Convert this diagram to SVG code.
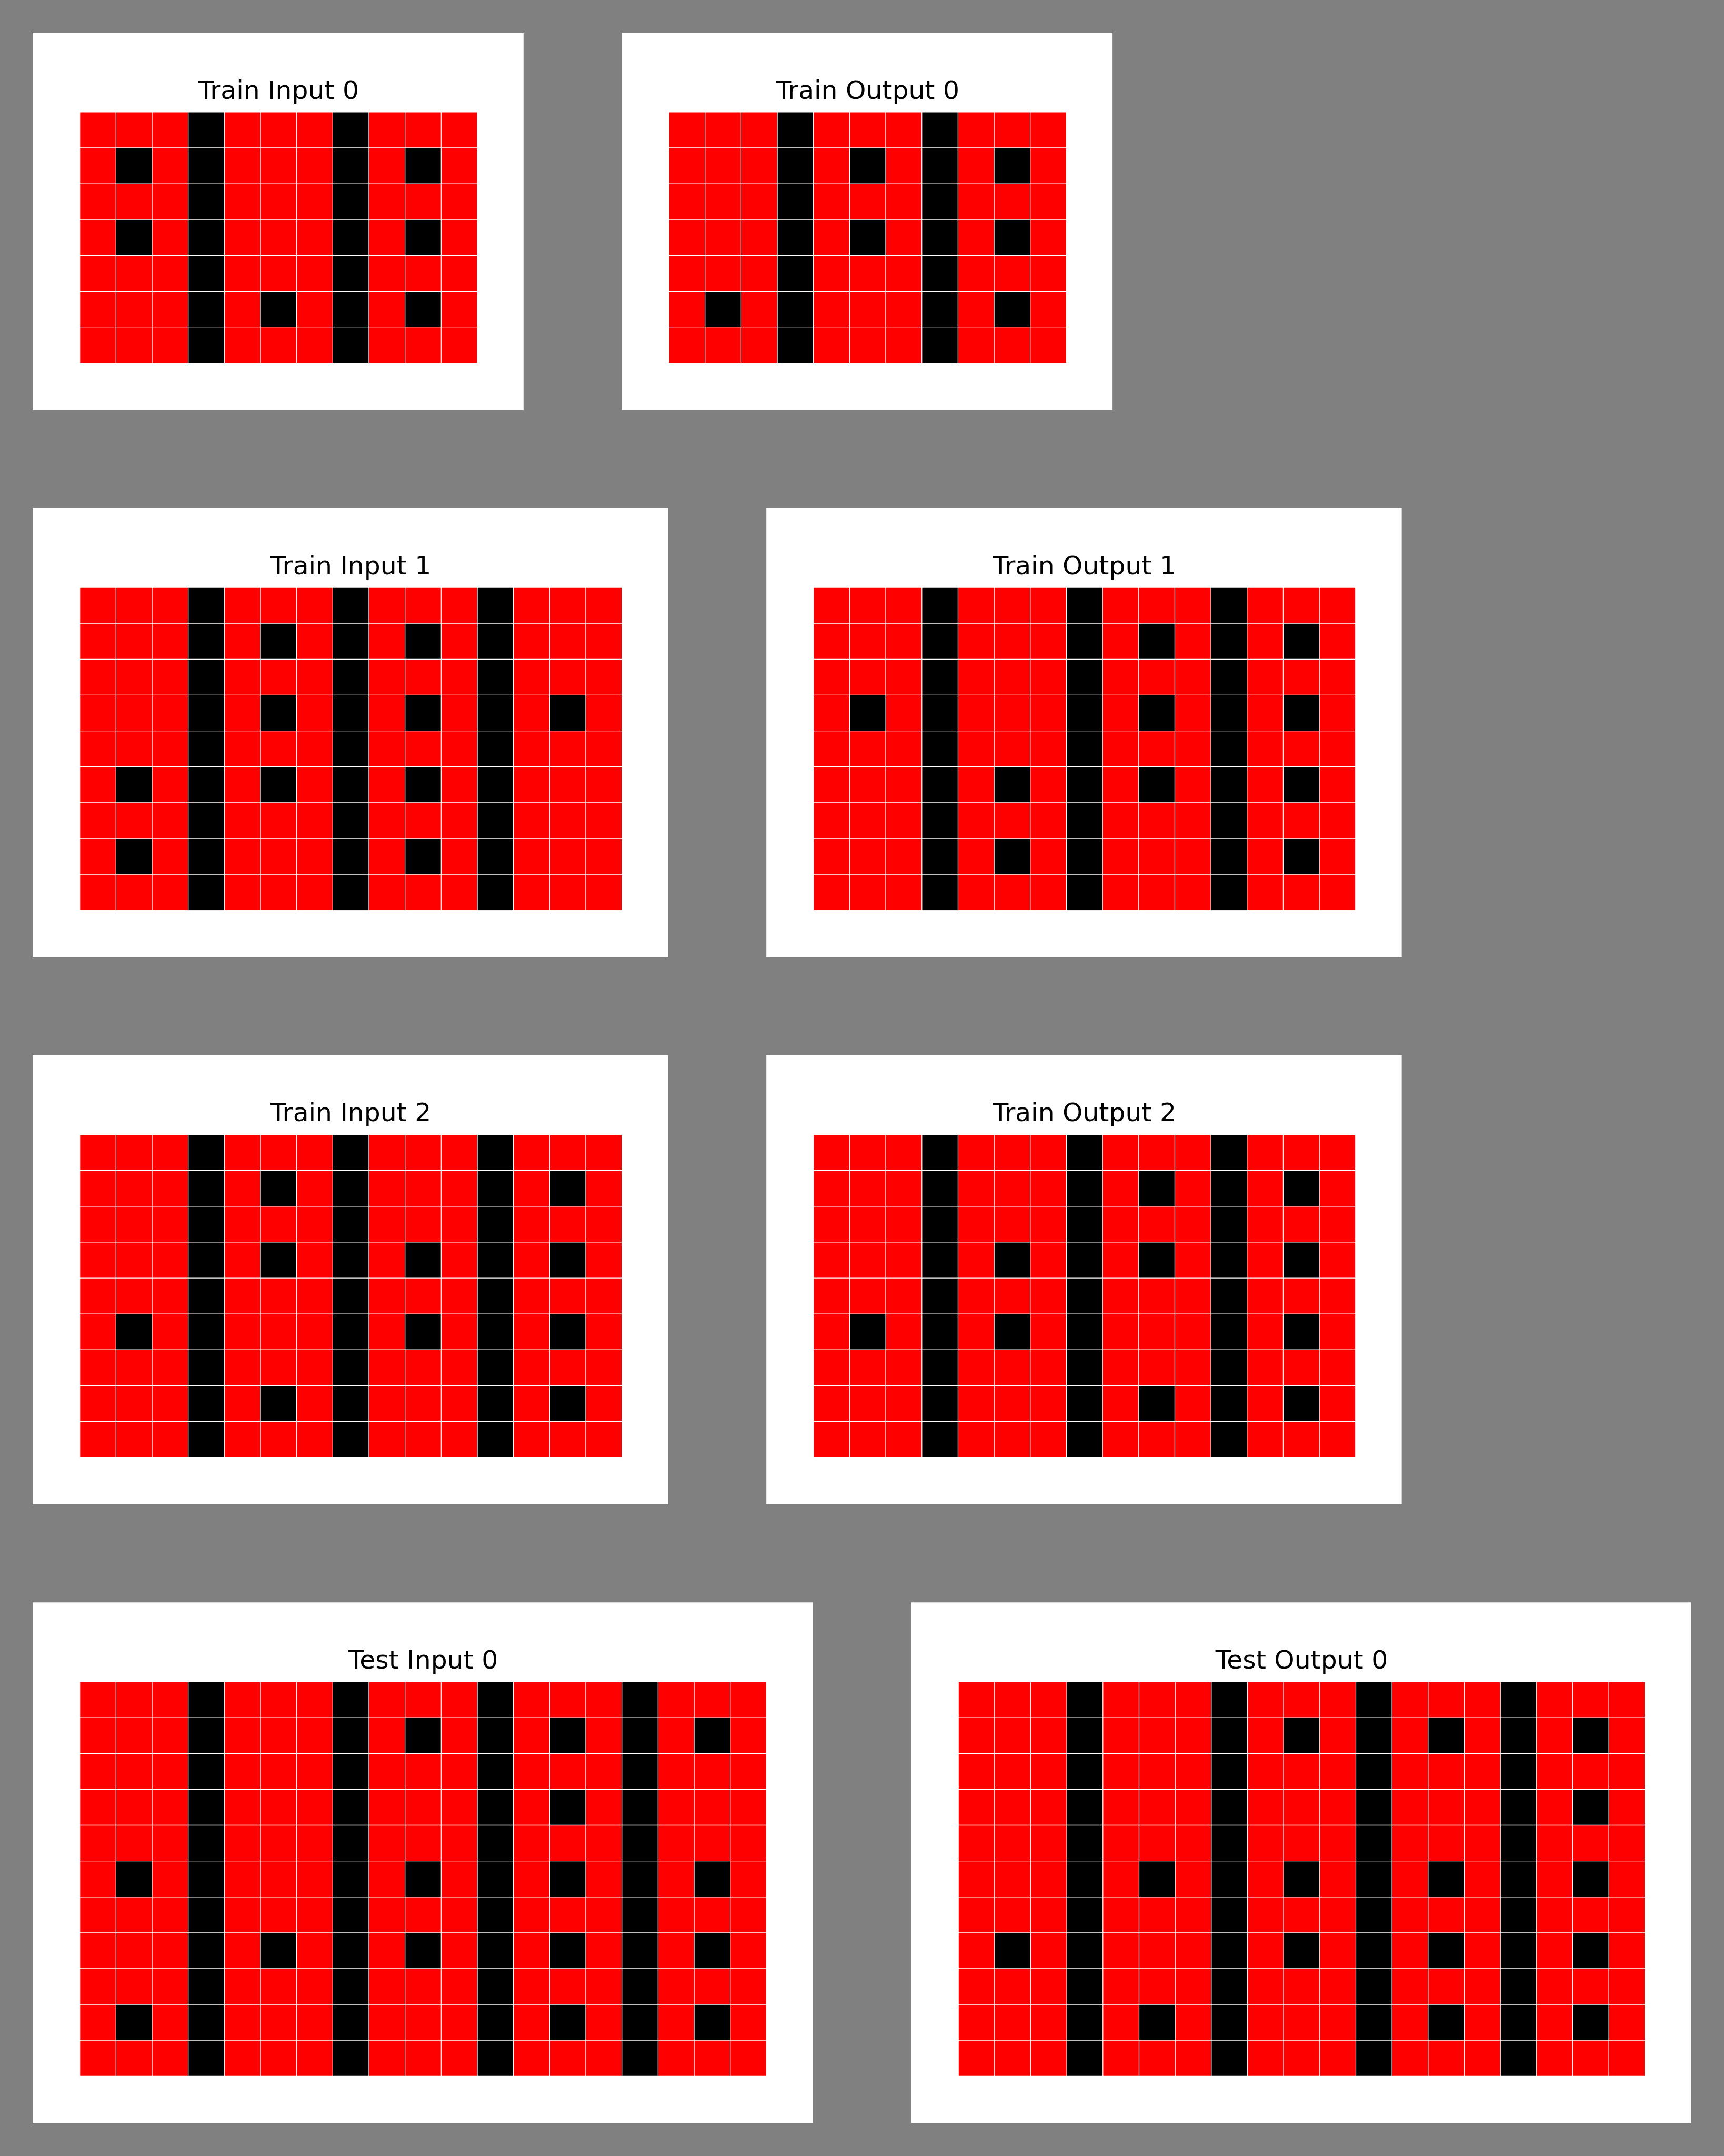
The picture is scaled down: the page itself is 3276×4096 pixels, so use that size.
<svg xmlns="http://www.w3.org/2000/svg" xmlns:xlink="http://www.w3.org/1999/xlink" width="3276" height="4096" viewBox="0 0 3276 4096">
<style>
.box{fill:#ffffff}
.r{fill:#ff0000}
.k{fill:#000000}
.gl{fill:none;stroke:#ffffff;stroke-width:1.3;vector-effect:non-scaling-stroke}
.t{font-family:"DejaVu Sans","Liberation Sans",sans-serif;font-size:55px;text-anchor:middle;fill:#000000}
</style>
<defs>
<path id="g11x7" class="gl" d="M0 0V7M1 0V7M2 0V7M3 0V7M4 0V7M5 0V7M6 0V7M7 0V7M8 0V7M9 0V7M10 0V7M11 0V7M0 0H11M0 1H11M0 2H11M0 3H11M0 4H11M0 5H11M0 6H11M0 7H11"/>
<path id="g15x9" class="gl" d="M0 0V9M1 0V9M2 0V9M3 0V9M4 0V9M5 0V9M6 0V9M7 0V9M8 0V9M9 0V9M10 0V9M11 0V9M12 0V9M13 0V9M14 0V9M15 0V9M0 0H15M0 1H15M0 2H15M0 3H15M0 4H15M0 5H15M0 6H15M0 7H15M0 8H15M0 9H15"/>
<path id="g19x11" class="gl" d="M0 0V11M1 0V11M2 0V11M3 0V11M4 0V11M5 0V11M6 0V11M7 0V11M8 0V11M9 0V11M10 0V11M11 0V11M12 0V11M13 0V11M14 0V11M15 0V11M16 0V11M17 0V11M18 0V11M19 0V11M0 0H19M0 1H19M0 2H19M0 3H19M0 4H19M0 5H19M0 6H19M0 7H19M0 8H19M0 9H19M0 10H19M0 11H19"/>
</defs>
<rect width="3276" height="4096" fill="#808080"/>
<g transform="scale(0.88684)">

<g id="train-input-0">
<rect class="box" x="70" y="70" width="1051.7" height="808"/>
<text class="t" x="596.9" y="211.7">Train Input 0</text>
<g transform="translate(171,240) scale(77.43,76.81)">
<rect class="r" width="11" height="7"/>
<path class="k" d="M3 0h1v7h-1zM7 0h1v7h-1zM1 1h1v1h-1zM9 1h1v1h-1zM1 3h1v1h-1zM9 3h1v1h-1zM5 5h1v1h-1zM9 5h1v1h-1z"/>
<use xlink:href="#g11x7"/>
</g>
</g>

<g id="train-output-0">
<rect class="box" x="1332.2" y="70" width="1051.7" height="808"/>
<text class="t" x="1859.1" y="211.7">Train Output 0</text>
<g transform="translate(1433.2,240) scale(77.43,76.81)">
<rect class="r" width="11" height="7"/>
<path class="k" d="M3 0h1v7h-1zM7 0h1v7h-1zM5 1h1v1h-1zM9 1h1v1h-1zM5 3h1v1h-1zM9 3h1v1h-1zM1 5h1v1h-1zM9 5h1v1h-1z"/>
<use xlink:href="#g11x7"/>
</g>
</g>

<g id="train-input-1">
<rect class="box" x="70" y="1088.5" width="1361.5" height="961.6"/>
<text class="t" x="751.7" y="1230.2">Train Input 1</text>
<g transform="translate(171,1258.5) scale(77.43,76.81)">
<rect class="r" width="15" height="9"/>
<path class="k" d="M3 0h1v9h-1zM7 0h1v9h-1zM11 0h1v9h-1zM5 1h1v1h-1zM9 1h1v1h-1zM5 3h1v1h-1zM9 3h1v1h-1zM13 3h1v1h-1zM1 5h1v1h-1zM5 5h1v1h-1zM9 5h1v1h-1zM1 7h1v1h-1zM9 7h1v1h-1z"/>
<use xlink:href="#g15x9"/>
</g>
</g>

<g id="train-output-1">
<rect class="box" x="1642" y="1088.5" width="1361.5" height="961.6"/>
<text class="t" x="2323.7" y="1230.2">Train Output 1</text>
<g transform="translate(1743,1258.5) scale(77.43,76.81)">
<rect class="r" width="15" height="9"/>
<path class="k" d="M3 0h1v9h-1zM7 0h1v9h-1zM11 0h1v9h-1zM9 1h1v1h-1zM13 1h1v1h-1zM1 3h1v1h-1zM9 3h1v1h-1zM13 3h1v1h-1zM5 5h1v1h-1zM9 5h1v1h-1zM13 5h1v1h-1zM5 7h1v1h-1zM13 7h1v1h-1z"/>
<use xlink:href="#g15x9"/>
</g>
</g>

<g id="train-input-2">
<rect class="box" x="70" y="2260.6" width="1361.5" height="961.6"/>
<text class="t" x="751.7" y="2402.3">Train Input 2</text>
<g transform="translate(171,2430.6) scale(77.43,76.81)">
<rect class="r" width="15" height="9"/>
<path class="k" d="M3 0h1v9h-1zM7 0h1v9h-1zM11 0h1v9h-1zM5 1h1v1h-1zM13 1h1v1h-1zM5 3h1v1h-1zM9 3h1v1h-1zM13 3h1v1h-1zM1 5h1v1h-1zM9 5h1v1h-1zM13 5h1v1h-1zM5 7h1v1h-1zM13 7h1v1h-1z"/>
<use xlink:href="#g15x9"/>
</g>
</g>

<g id="train-output-2">
<rect class="box" x="1642" y="2260.6" width="1361.5" height="961.6"/>
<text class="t" x="2323.7" y="2402.3">Train Output 2</text>
<g transform="translate(1743,2430.6) scale(77.43,76.81)">
<rect class="r" width="15" height="9"/>
<path class="k" d="M3 0h1v9h-1zM7 0h1v9h-1zM11 0h1v9h-1zM9 1h1v1h-1zM13 1h1v1h-1zM5 3h1v1h-1zM9 3h1v1h-1zM13 3h1v1h-1zM1 5h1v1h-1zM5 5h1v1h-1zM13 5h1v1h-1zM9 7h1v1h-1zM13 7h1v1h-1z"/>
<use xlink:href="#g15x9"/>
</g>
</g>

<g id="test-input-0">
<rect class="box" x="70" y="3432.7" width="1671.2" height="1115.2"/>
<text class="t" x="906.6" y="3574.4">Test Input 0</text>
<g transform="translate(171,3602.7) scale(77.43,76.81)">
<rect class="r" width="19" height="11"/>
<path class="k" d="M3 0h1v11h-1zM7 0h1v11h-1zM11 0h1v11h-1zM15 0h1v11h-1zM9 1h1v1h-1zM13 1h1v1h-1zM17 1h1v1h-1zM13 3h1v1h-1zM1 5h1v1h-1zM9 5h1v1h-1zM13 5h1v1h-1zM17 5h1v1h-1zM5 7h1v1h-1zM9 7h1v1h-1zM13 7h1v1h-1zM17 7h1v1h-1zM1 9h1v1h-1zM13 9h1v1h-1zM17 9h1v1h-1z"/>
<use xlink:href="#g19x11"/>
</g>
</g>

<g id="test-output-0">
<rect class="box" x="1952.5" y="3432.7" width="1671.2" height="1115.2"/>
<text class="t" x="2789.1" y="3574.4">Test Output 0</text>
<g transform="translate(2053.5,3602.7) scale(77.43,76.81)">
<rect class="r" width="19" height="11"/>
<path class="k" d="M3 0h1v11h-1zM7 0h1v11h-1zM11 0h1v11h-1zM15 0h1v11h-1zM9 1h1v1h-1zM13 1h1v1h-1zM17 1h1v1h-1zM17 3h1v1h-1zM5 5h1v1h-1zM9 5h1v1h-1zM13 5h1v1h-1zM17 5h1v1h-1zM1 7h1v1h-1zM9 7h1v1h-1zM13 7h1v1h-1zM17 7h1v1h-1zM5 9h1v1h-1zM13 9h1v1h-1zM17 9h1v1h-1z"/>
<use xlink:href="#g19x11"/>
</g>
</g>

<g id="connectors"></g>
</g>
</svg>
